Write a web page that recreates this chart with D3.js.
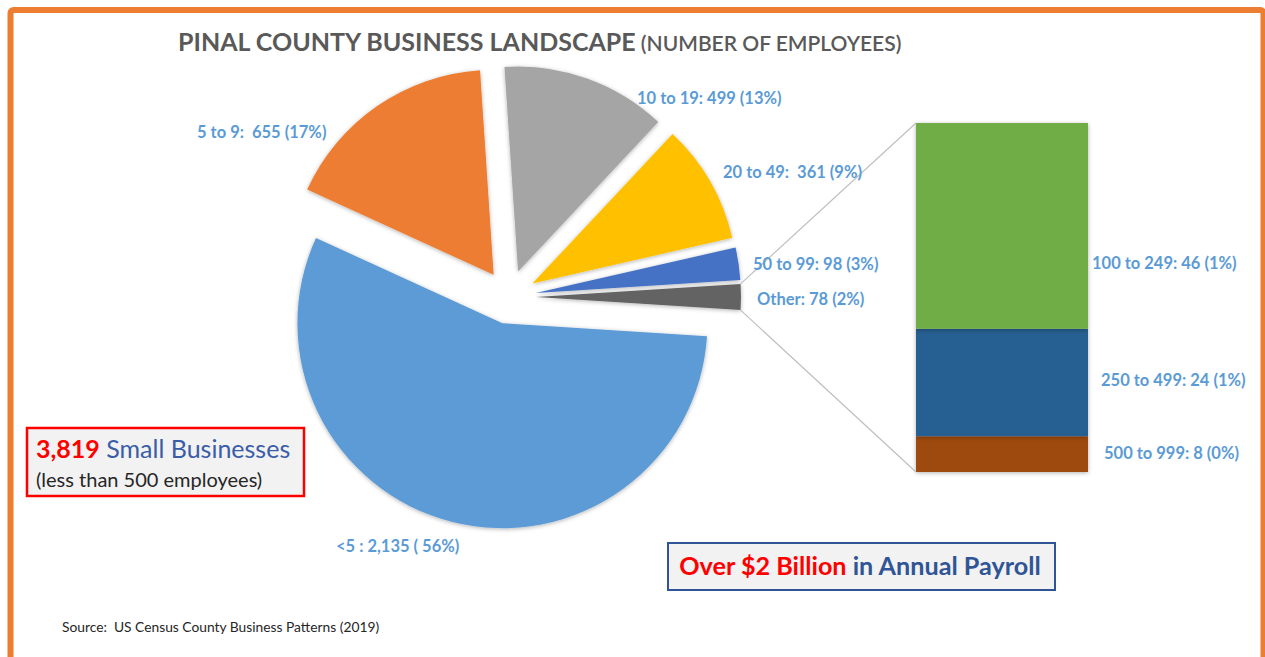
<!DOCTYPE html>
<html>
<head>
<meta charset="utf-8">
<script src="https://cdn.jsdelivr.net/npm/d3@7"></script>
<style>
  body { margin: 0; background: #fff; }
  svg { display: block; font-family: Lato, "Open Sans", sans-serif; }
</style>
</head>
<body>
<div id="chart"></div>
<script>
// pie slices, clockwise starting just below 3 o'clock
const SLICE_NAMES = ["<5", "5 to 9", "10 to 19", "20 to 49", "50 to 99", "Other"];
const SLICE_VALUES = [2135, 655, 499, 361, 98, 78];
const SLICE_LABELS = ["<5 : 2,135 ( 56%)", "5 to 9:  655 (17%)", "10 to 19: 499 (13%)",
  "20 to 49:  361 (9%)", "50 to 99: 98 (3%)", "Other: 78 (2%)"];
const SLICE_COLORS = ["#5B9BD5", "#ED7D31", "#A5A5A5", "#FFC000", "#4472C4", "#636363"];

// breakdown of "Other", bottom to top in the bar
const BAR_NAMES = ["500 to 999", "250 to 499", "100 to 249"];
const BAR_VALUES = [8, 24, 46];
const BAR_LABELS = ["500 to 999: 8 (0%)", "250 to 499: 24 (1%)", "100 to 249: 46 (1%)"];
const BAR_COLORS = ["#9E480E", "#255E91", "#70AD47"];

const WIDTH = 1265, HEIGHT = 657;
const CENTER = [509, 297];
const RADIUS = 205;
const EXPLODE = 27;
const LABEL_COLOR = "#5B9BD5";
const LABEL_SIZE = 16.5;

const svg = d3.select("#chart").append("svg")
  .attr("width", WIDTH).attr("height", HEIGHT);

const defs = svg.append("defs");
defs.append("filter").attr("id", "shadow")
  .attr("x", "-20%").attr("y", "-20%").attr("width", "140%").attr("height", "140%")
  .append("feDropShadow")
  .attr("dx", 0).attr("dy", 1).attr("stdDeviation", 2)
  .attr("flood-color", "#000").attr("flood-opacity", 0.3);

// orange frame
svg.append("rect")
  .attr("x", 10.5).attr("y", 10).attr("width", 1253).attr("height", 680)
  .attr("rx", 3)
  .attr("fill", "none").attr("stroke", "#ED7D31").attr("stroke-width", 6);

// title
const title = svg.append("text")
  .attr("x", 178).attr("y", 51)
  .attr("fill", "#595959");
title.append("tspan").attr("font-weight", 700).attr("font-size", 25)
  .text("PINAL COUNTY BUSINESS LANDSCAPE");
title.append("tspan").attr("font-weight", 600).attr("font-size", 21)
  .text(" (NUMBER OF EMPLOYEES)");

// pie: "Other" slice centered on 3 o'clock
const total = d3.sum(SLICE_VALUES);
const otherAngle = 2 * Math.PI * SLICE_VALUES[5] / total;
const start = Math.PI / 2 + otherAngle / 2;
const pie = d3.pie().sort(null).startAngle(start).endAngle(start + 2 * Math.PI);
const arcs = pie(SLICE_VALUES);
const arc = d3.arc().innerRadius(0).outerRadius(RADIUS);

const offset = d => {
  const mid = (d.startAngle + d.endAngle) / 2;
  return [CENTER[0] + EXPLODE * Math.sin(mid), CENTER[1] - EXPLODE * Math.cos(mid)];
};

svg.append("g").attr("class", "slices")
  .selectAll("path")
  .data(arcs)
  .join("path")
  .attr("transform", d => `translate(${offset(d)})`)
  .attr("d", arc)
  .attr("fill", (d, i) => SLICE_COLORS[i])
  .attr("filter", "url(#shadow)");

// bar of the "Other" slice
const barX = d3.scaleBand().domain(["Other"]).range([916, 1088]).padding(0);
const barY = d3.scaleLinear().domain([0, d3.sum(BAR_VALUES)]).range([472, 123]);
const stacked = d3.stack().keys(BAR_NAMES)([Object.fromEntries(BAR_NAMES.map((k, i) => [k, BAR_VALUES[i]]))]);

svg.append("g").attr("class", "bar")
  .selectAll("rect")
  .data(stacked)
  .join("rect")
  .attr("x", barX("Other"))
  .attr("width", barX.bandwidth())
  .attr("y", d => barY(d[0][1]))
  .attr("height", d => barY(d[0][0]) - barY(d[0][1]))
  .attr("fill", (d, i) => BAR_COLORS[i])
  .attr("filter", "url(#shadow)");

// connector lines from the Other slice to the bar
const other = arcs[5];
const oc = offset(other);
const corners = [other.startAngle, other.endAngle].map(a =>
  [oc[0] + RADIUS * Math.sin(a), oc[1] - RADIUS * Math.cos(a)]);
const barEnds = [barY.range()[1], barY.range()[0]];
svg.append("g").attr("class", "connectors")
  .selectAll("line")
  .data(corners)
  .join("line")
  .attr("x1", d => d[0]).attr("y1", d => d[1])
  .attr("x2", barX("Other")).attr("y2", (d, i) => barEnds[i])
  .attr("stroke", "#BFBFBF").attr("stroke-width", 1.2);

// slice labels
const sliceLabelPos = [[336, 552], [197, 138], [637, 104], [723, 178], [753, 270], [757, 305]];
svg.append("g").attr("class", "slice-labels")
  .selectAll("text")
  .data(SLICE_LABELS)
  .join("text")
  .attr("x", (d, i) => sliceLabelPos[i][0])
  .attr("y", (d, i) => sliceLabelPos[i][1])
  .attr("fill", LABEL_COLOR)
  .attr("font-size", LABEL_SIZE).attr("font-weight", 700)
  .style("white-space", "pre")
  .text(d => d);

// bar labels beside the bar
const barLabelPos = [[1104, 459], [1101, 386], [1092, 269]];
svg.append("g").attr("class", "bar-labels")
  .selectAll("text")
  .data(stacked)
  .join("text")
  .attr("x", (d, i) => barLabelPos[i][0])
  .attr("y", (d, i) => barLabelPos[i][1])
  .attr("fill", LABEL_COLOR)
  .attr("font-size", LABEL_SIZE).attr("font-weight", 700)
  .text((d, i) => BAR_LABELS[i]);

// small businesses callout
svg.append("rect")
  .attr("x", 27).attr("y", 428).attr("width", 277).attr("height", 68)
  .attr("fill", "#F2F2F2").attr("stroke", "#FF0000").attr("stroke-width", 2.5);
const callout = svg.append("text").attr("x", 36).attr("y", 458).attr("font-size", 25);
callout.append("tspan").attr("fill", "#FF0000").attr("font-weight", 700).text("3,819");
callout.append("tspan").attr("fill", "#3A5DA8").text(" Small Businesses");
svg.append("text").attr("x", 36).attr("y", 487).attr("font-size", 20)
  .attr("fill", "#262626").text("(less than 500 employees)");

// payroll callout
svg.append("rect")
  .attr("x", 668).attr("y", 543).attr("width", 387).attr("height", 47)
  .attr("fill", "#F2F2F2").attr("stroke", "#2F5597").attr("stroke-width", 2);
const payroll = svg.append("text").attr("x", 860).attr("y", 575)
  .attr("text-anchor", "middle").attr("font-size", 25.2).attr("font-weight", 700);
payroll.append("tspan").attr("fill", "#FF0000").text("Over $2 Billion");
payroll.append("tspan").attr("fill", "#2F5597").text(" in Annual Payroll");

// source note
svg.append("text").attr("x", 62).attr("y", 632)
  .attr("font-size", 13.8).attr("fill", "#262626")
  .style("white-space", "pre")
  .text("Source:  US Census County Business Patterns (2019)");
</script>
</body>
</html>
